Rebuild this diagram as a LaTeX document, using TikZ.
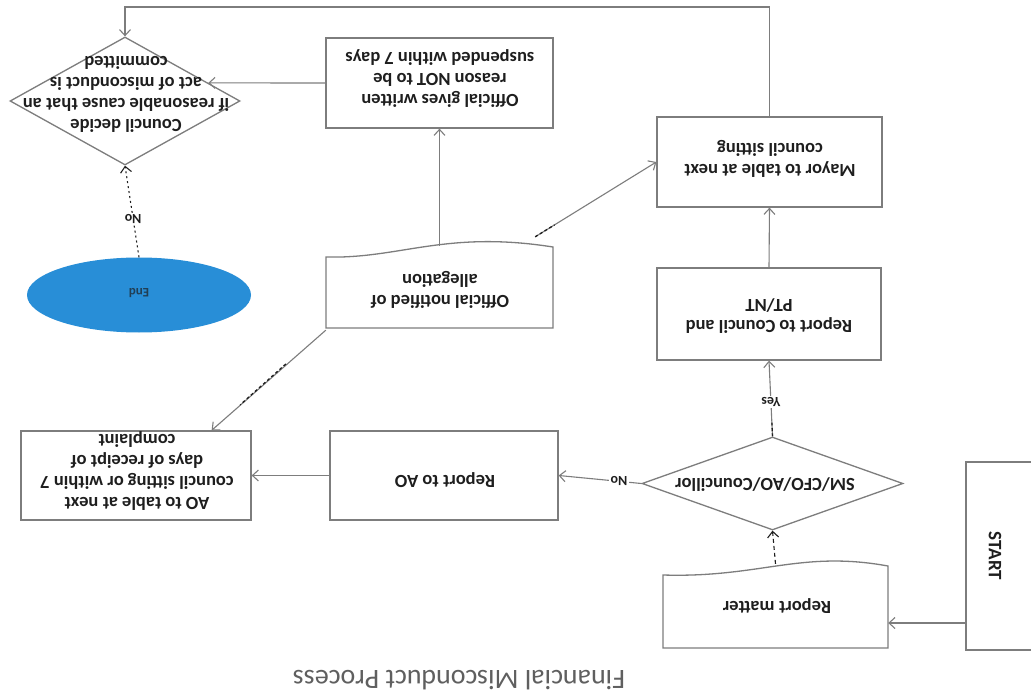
\documentclass[tikz,border=0pt]{standalone}
\usepackage{fontspec}
\setmainfont{Carlito}
\usetikzlibrary{shapes.geometric,arrows.meta,calc}
\definecolor{linegray}{RGB}{125,125,125}
\definecolor{textdark}{RGB}{30,30,30}
\definecolor{endblue}{RGB}{40,142,215}
\definecolor{titlegray}{RGB}{95,95,95}
\tikzset{
  boxshape/.style={draw=linegray, line width=1.3pt, inner sep=0pt, fill=white},
  diashape/.style={draw=linegray, line width=1.3pt, shape=diamond, inner sep=0pt},
  txt/.style={rotate=180, font=\bfseries\fontsize{18.5}{21}\selectfont, align=center, text=textdark, inner sep=0pt},
  lbl/.style={rotate=180, font=\bfseries\fontsize{14}{16}\selectfont, text=textdark, fill=white, inner sep=1.5pt},
  arr/.style={draw=linegray, line width=1.1pt, -{Straight Barb[length=6pt,width=11pt]}},
  darkdash/.style={draw=textdark, line width=1.3pt, dash pattern=on 3pt off 2.5pt},
}
\begin{document}
\begin{tikzpicture}[x=1pt,y=-1pt]
\clip (0,0) rectangle (1031,695);
\fill[white] (0,0) rectangle (1031,695);

% START
\node[boxshape, minimum width=80pt, minimum height=188pt] (start) at (1006,556) {};
\node[rotate=-90, font=\bfseries\fontsize{19}{22}\selectfont, text=textdark] (starttxt) at (995,556) {START};

% Report matter (document shape)
\node[minimum width=225pt, minimum height=84pt, inner sep=0pt] (rm) at (775.5,606) {};
\draw[linegray, line width=1.3pt] (663,575) .. controls (760,578) and (800,550) .. (888,566) -- (888,648) -- (663,648) -- cycle;
\node[txt] (rmtxt) at (777,606) {Report matter};

% Decision 1
\node[diashape, minimum width=261pt, minimum height=93pt] (d1) at (772.5,483.5) {};
\node[txt] (d1txt) at (765,485) {SM/CFO/AO/Councillor};

% Report to Council
\node[boxshape, minimum width=224pt, minimum height=92pt] (rc) at (769,314) {};
\node[txt] (rctxt) at (769,316) {Report to Council and\\PT/NT};

% Mayor
\node[boxshape, minimum width=225pt, minimum height=90pt] (mayor) at (769.5,162) {};
\node[txt] (mayortxt) at (770,159) {Mayor to table at next\\council sitting};

% Official gives written reason
\node[boxshape, minimum width=227pt, minimum height=90pt] (og) at (439.5,83) {};
\node[txt] (ogtxt) at (440,79) {Official gives written\\reason NOT to be\\suspended within 7 days};

% Council decide diamond
\node[diashape, minimum width=230pt, minimum height=128pt] (cd) at (125,101) {};
\node[txt] (cdtxt) at (126,94) {Council decide\\if reasonable cause that an\\act of misconduct is\\committed};

% End
\node[ellipse, fill=endblue, minimum width=224pt, minimum height=75pt, inner sep=0pt] (end) at (139,295) {};
\node[rotate=180, font=\bfseries\fontsize{13}{15}\selectfont, text=textdark!70!endblue] (endtxt) at (139,293) {End};

% Official notified of allegation (document shape)
\node[minimum width=227pt, minimum height=82pt, inner sep=0pt] (on) at (439.5,287) {};
\draw[linegray, line width=1.3pt] (326,257) .. controls (400,259) and (445,230) .. (553,247) -- (553,328) -- (326,328) -- cycle;
\node[txt] (ontxt) at (440,290) {Official notified of\\allegation};

% AO to table
\node[boxshape, minimum width=230pt, minimum height=89pt] (ao) at (136,475.5) {};
\node[txt] (aotxt) at (137,471) {AO to table at next\\council sitting or within 7\\days of receipt of\\complaint};

% Report to AO
\node[boxshape, minimum width=228pt, minimum height=89pt] (rao) at (444,475.5) {};
\node[txt] (raotxt) at (445,480) {Report to AO};

% Title
\node[rotate=180, font=\fontsize{28}{31}\selectfont, text=titlegray] (title) at (459,680) {Financial Misconduct Process};

% Connectors
\draw[arr] ([yshift=-67pt]start.west) -- ([yshift=-67pt]start.west -| rm.east);
\draw[arr, draw=textdark, dash pattern=on 4pt off 3pt] (rm.north) -- (d1.south);
\draw[arr] (d1.north) -- node[lbl, pos=0.45] (yes) {Yes} (rc.south);
\draw[darkdash] (d1.north) -- ($(d1.north)!0.18!(rc.south)$);
\draw[arr] (d1.west) -- node[lbl, pos=0.27] (no1) {No} (rao.east);
\draw[arr] (rc.north) -- (mayor.south);
\coordinate (topturn) at (125,7);
\draw[arr] (mayor.north) |- (topturn) -- (cd.north);
\draw[arr] (og.west) -- ($(cd.north)!0.72!(cd.east)$);
\draw[arr, draw=textdark, dash pattern=on 2pt off 3pt] (end.north) -- node[lbl, pos=0.42] (no2) {No} (cd.south);
\draw[arr] (on.north) -- (og.south);
\coordinate (onne) at ($(on.north east)+(-18,-9)$);
\draw[arr] (onne) -- (mayor.west);
\draw[darkdash] (onne) -- ($(onne)!0.16!(mayor.west)$);
\coordinate (aoin) at ($(ao.north east)+(-40,0)$);
\draw[arr] ([yshift=-2pt]on.south west) -- (aoin);
\draw[darkdash] ($(on.south west)!0.35!(aoin)$) -- ($(on.south west)!0.75!(aoin)$);
\draw[arr] (rao.west) -- (ao.east);
\end{tikzpicture}
\end{document}
